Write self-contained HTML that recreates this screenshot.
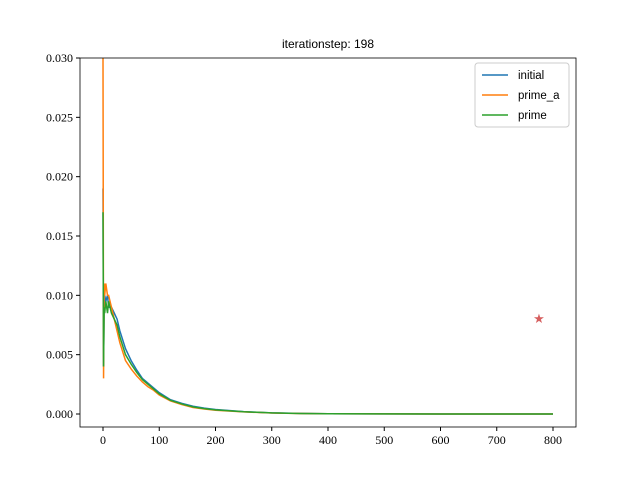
<!DOCTYPE html>
<html><head><meta charset="utf-8"><style>
body{margin:0;background:#fff;width:640px;height:480px;overflow:hidden}
svg text{font-family:"Liberation Serif",serif;font-size:12px;fill:#000}
.s{font-family:"Liberation Sans",sans-serif}
.lg{font-size:11.5px}
</style></head><body>
<svg id="c" width="640" height="480"></svg>
<script>
const xs=[0,1,2,3,5,8,10,15,20,25,30,40,50,60,70,80,90,100,120,140,160,180,200,250,300,350,400,500,600,700,800];
const initialVals=[19,4,9,10,9.5,10,9,9,8.5,8,7,5.5,4.5,3.7,3,2.6,2.2,1.8,1.2,0.9,0.65,0.5,0.38,0.2,0.1,0.05,0.02,0.01,0,0,0];
const primeAVals=[30,3,11,10,11,10,10,9,8,7,6,4.5,3.8,3.2,2.7,2.3,2,1.6,1.1,0.8,0.55,0.42,0.32,0.18,0.08,0.04,0.02,0.01,0,0,0];
const primeVals=[17,4,9,8.5,9.5,8.5,9.5,8.5,8,7.5,6.5,5,4.2,3.5,2.9,2.5,2.1,1.7,1.15,0.85,0.6,0.45,0.35,0.19,0.09,0.045,0.02,0.01,0,0,0];
const xTicks=[0,100,200,300,400,500,600,700,800];
const yTicks=[0,5,10,15,20,25,30];
const star=[775,8];
const svg=document.getElementById('c');const NS='http://www.w3.org/2000/svg';
const L=80,R=576,T=58,B=427;
const X=v=>103+v*0.5625, Y=v=>414-v*(356/30);
function el(t,a,p){const e=document.createElementNS(NS,t);for(const k in a)e.setAttribute(k,a[k]);(p||svg).appendChild(e);return e;}
const cp=el('clipPath',{id:'cp'});el('rect',{x:L,y:T,width:R-L,height:B-T},cp);
const series=[[initialVals,'#1f77b4','initial'],[primeAVals,'#ff7f0e','prime_a'],[primeVals,'#2ca02c','prime']];
series.forEach(([vals,col,nm])=>{
 const p=el('polyline',{points:xs.map((x,i)=>X(x)+','+Y(vals[i])).join(' '),fill:'none',stroke:col,'stroke-width':1.5,'clip-path':'url(#cp)'});
 
 
});
const st=el('text',{x:X(star[0]),y:Y(star[1])+4,'text-anchor':'middle',fill:'#d65f5f',style:'fill:#d65f5f;font-size:13px'});st.textContent='★';


el('rect',{x:L,y:T,width:R-L,height:B-T,fill:'none',stroke:'#000','stroke-width':0.8,});
xTicks.forEach(t=>{el('line',{x1:X(t),x2:X(t),y1:B,y2:B+4,stroke:'#000'});const tx=el('text',{x:X(t),y:B+17,'text-anchor':'middle'});tx.textContent=t;

});
yTicks.forEach(t=>{el('line',{x1:L-4,x2:L,y1:Y(t),y2:Y(t),stroke:'#000'});const tx=el('text',{x:L-7,y:Y(t)+4,'text-anchor':'end'});tx.textContent=(t/1000).toFixed(3);

});
const ti=el('text',{x:328,y:48,'text-anchor':'middle',class:'s',});ti.textContent='iterationstep: 198';
const lg=el('g',{});
el('rect',{x:475,y:63,width:94,height:64,fill:'#fff',stroke:'#ccc',rx:3},lg);
series.forEach(([v,col,nm],i)=>{const y=75+i*20;el('line',{x1:482,x2:508,y1:y,y2:y,stroke:col,'stroke-width':1.5},lg);
const t=el('text',{x:518,y:y+4,class:'s lg'},lg);t.textContent=nm;

});
</script></body></html>
